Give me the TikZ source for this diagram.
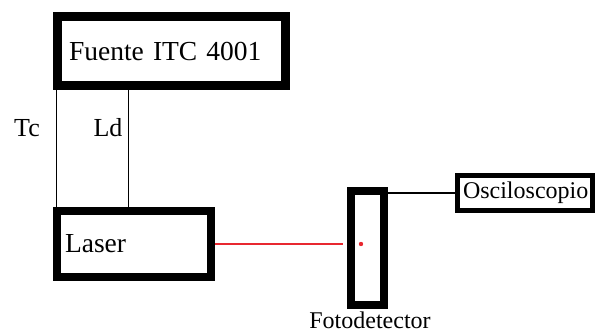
\documentclass[tikz,border=0pt]{standalone}
\usepackage{fontspec}
\setmainfont{Liberation Serif}
\usetikzlibrary{positioning}
\definecolor{rayo}{RGB}{232,40,48}
\tikzset{
  caja/.style={draw,line width=#1,minimum width=0,inner sep=0,align=left},
  big/.style={font=\fontsize{27.5}{30}\selectfont},
  small/.style={font=\fontsize{24}{26}\selectfont},
  cable/.style={line width=1.5}
}
\begin{document}
\begin{tikzpicture}[x=1pt,y=-1pt]
  \useasboundingbox[fill=white] (0,0) rectangle (595,335);
  % bloques
  \node[caja=9,big,minimum width=228,minimum height=69,text width=205,inner xsep=11.5] (fuente) at (171.5,51) {Fuente ITC 4001};
  \node[caja=8,big,minimum width=154,minimum height=66,text width=138,inner xsep=8] (laser) at (134,244) {Laser};
  \node[caja=8,minimum width=33,minimum height=114] (foto) at (367.5,248) {};
  \node[caja=5,small,minimum width=135,minimum height=35,text width=124,inner xsep=5.5] (osc) at (525,193) {Osciloscopio};
  % cables
  \coordinate (tc) at ([xshift=3.5]fuente.south west); \coordinate (ld) at ([xshift=75.5]fuente.south west);
  \draw[cable] (tc) -- (tc |- laser.north); \draw[cable] (ld) -- (ld |- laser.north);
  \draw[cable] (osc.west) -- (osc.west -| foto.east);
  \draw[rayo,line width=1.3] (laser.east) -- ([xshift=-4]laser.east -| foto.west);
  \fill[rayo] (361,244) circle (2.2);
  % etiquetas
  \node[font=\fontsize{26}{28}\selectfont] (tclab) at (27,128) {Tc}; \node[font=\fontsize{26}{28}\selectfont] (ldlab) at (108,128) {Ld};
  \node[small,below=3pt of foto,xshift=2.5,inner sep=0] (fotolab) {Fotodetector};
\end{tikzpicture}
\end{document}
